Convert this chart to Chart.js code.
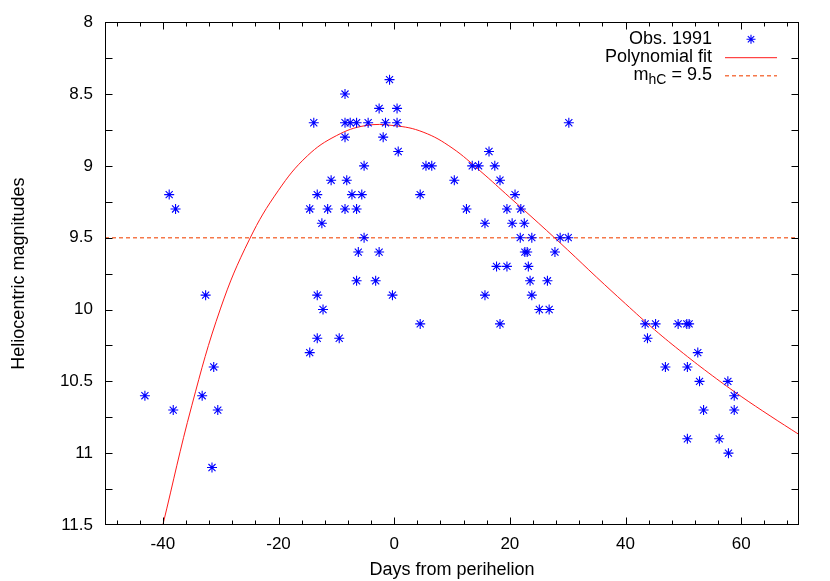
<!DOCTYPE html>
<html><head><meta charset="utf-8">
<script src="https://cdn.jsdelivr.net/npm/chart.js@4/dist/chart.umd.min.js"></script>
<style>html,body{margin:0;padding:0;background:#fff;}canvas{display:block;}</style>
</head><body>
<canvas id="c" width="830" height="581"></canvas>
<script>
// ---- data ----
const obsDays = [-43.1,-38.9,-37.8,-38.2,-32.6,-33.2,-31.2,-31.5,-30.5,
  -14.6,-14.6,-13.9,-13.3,-13.3,-13.3,-12.5,-12.3,-11.5,-10.9,
  -9.5,-8.5,-8.5,-8.5,-8.5,-8.2,-7.6,-7.3,-6.5,-6.5,
  -6.5,-6.2,-5.6,-5.2,-5.2,-4.5,-3.2,-2.6,-2.6,-1.9,
  -1.5,-0.8,-0.3,0.5,0.5,0.7,4.5,4.5,5.5,6.5,
  10.4,12.5,13.5,14.6,15.7,15.7,16.4,17.4,17.7,18.3,
  18.3,19.5,19.5,20.4,20.9,21.8,21.9,22.5,22.6,23.0,
  23.2,23.5,23.8,23.8,25.1,26.5,26.8,27.8,28.7,30.1,30.2,
  43.4,43.8,45.2,46.9,49.1,50.6,51.0,50.7,50.7,
  52.5,52.8,53.5,56.2,57.7,57.8,58.8,58.8];
const obsMags = [10.6,9.2,9.3,10.7,9.9,10.6,10.4,11.1,10.7,
  10.3,9.3,8.7,9.2,9.9,10.2,9.4,10.0,9.3,9.1,
  10.2,8.5,8.7,8.8,9.3,9.1,8.7,9.2,8.7,9.3,
  9.8,9.6,9.2,9.0,9.5,8.7,9.8,8.6,9.6,8.8,
  8.7,8.4,9.9,8.6,8.7,8.9,9.2,10.1,9.0,9.0,
  9.1,9.3,9.0,9.0,9.4,9.9,8.9,9.0,9.7,9.1,
  10.1,9.3,9.7,9.4,9.2,9.5,9.3,9.4,9.6,9.6,
  9.7,9.8,9.5,9.9,10.0,9.8,10.0,9.6,9.5,9.5,8.7,
  10.1,10.2,10.1,10.4,10.1,10.1,10.1,10.4,10.9,
  10.3,10.5,10.7,10.9,10.5,11.0,10.6,10.7];
// polynomial fit, sampled off the drawn curve every 5 days
const fitDays = [-40,-35,-30,-25,-20,-15,-10,-5,0,5,10,15,20,25,30,35,40,45,50,55,60,65,70];
const fitMags = [11.5,10.67,9.99,9.51,9.17,8.93,8.79,8.72,8.72,8.765,8.875,9.04,9.22,9.40,9.585,9.775,9.96,10.14,10.305,10.46,10.605,10.74,10.87];
const refMag = 9.5;
const xRange = [-50, 70];
const yRange = [8, 11.5];
const xTickLabels = [-40, -20, 0, 20, 40, 60];
const yTickLabels = [8, 8.5, 9, 9.5, 10, 10.5, 11, 11.5];
const seriesLabels = ['Obs. 1991', 'Polynomial fit'];
const xTitle = 'Days from perihelion';
const yTitle = 'Heliocentric magnitudes';

const FAM = '"Liberation Sans", Arial, Helvetica, sans-serif';
const BLUE = '#0000ff', RED = '#ff1a1a', DASH = '#f5784a';

function drawStar(ctx, x, y, r) {
  ctx.beginPath();
  ctx.moveTo(x - r, y); ctx.lineTo(x + r, y);
  ctx.moveTo(x, y - r); ctx.lineTo(x, y + r);
  const d = r * Math.SQRT1_2;
  ctx.moveTo(x - d, y - d); ctx.lineTo(x + d, y + d);
  ctx.moveTo(x - d, y + d); ctx.lineTo(x + d, y - d);
  ctx.stroke();
}

const framePlugin = {
  id: 'frame',
  afterDraw(chart) {
    const {ctx, chartArea: a, scales: {x, y}} = chart;
    ctx.save();
    ctx.strokeStyle = '#000';
    ctx.lineWidth = 1;
    const L = Math.round(a.left) + 0.5, R = Math.round(a.right) - 0.5;
    const T = Math.round(a.top) + 0.5, B = Math.round(a.bottom) - 0.5;
    ctx.beginPath();
    for (let v = Math.ceil(x.min / 4) * 4; v <= x.max; v += 4) {
      const px = Math.round(x.getPixelForValue(v)) + 0.5;
      if (px <= L + 1 || px >= R - 1) continue;
      const len = (v % 20 === 0) ? 7 : 4;
      ctx.moveTo(px, B); ctx.lineTo(px, B - len);
      ctx.moveTo(px, T); ctx.lineTo(px, T + len);
    }
    for (let v = y.min; v <= y.max + 1e-9; v += 0.25) {
      const py = Math.round(y.getPixelForValue(v)) + 0.5;
      if (py <= T + 1 || py >= B - 1) continue;
      ctx.moveTo(L, py); ctx.lineTo(L + 7, py);
      ctx.moveTo(R, py); ctx.lineTo(R - 7, py);
    }
    ctx.stroke();
    ctx.strokeRect(L, T, R - L, B - T);

    // legend
    const tr = a.right - 87;
    const s1 = a.right - 74, s2 = a.right - 22, sc = (s1 + s2) / 2;
    const rows = [a.top + 17, a.top + 35, a.top + 53];
    ctx.fillStyle = '#000';
    ctx.textBaseline = 'middle';
    ctx.textAlign = 'right';
    ctx.font = '18px ' + FAM;
    ctx.fillText(seriesLabels[0], tr, rows[0]);
    ctx.fillText(seriesLabels[1], tr, rows[1]);
    const tail = ' = ' + refMag;
    ctx.fillText(tail, tr, rows[2]);
    const w1 = ctx.measureText(tail).width;
    ctx.font = '14px ' + FAM;
    ctx.fillText('hC', tr - w1, rows[2] + 5);
    const w2 = ctx.measureText('hC').width;
    ctx.font = '18px ' + FAM;
    ctx.fillText('m', tr - w1 - w2, rows[2]);

    ctx.lineWidth = 1.1;
    ctx.strokeStyle = BLUE;
    drawStar(ctx, sc, rows[0], 4.5);
    ctx.lineWidth = 1;
    ctx.strokeStyle = RED;
    ctx.beginPath(); ctx.moveTo(s1, rows[1] + 0.5); ctx.lineTo(s2, rows[1] + 0.5); ctx.stroke();
    ctx.lineWidth = 1.4;
    ctx.strokeStyle = DASH;
    ctx.setLineDash([4, 3]);
    ctx.beginPath(); ctx.moveTo(s1, rows[2] + 0.5); ctx.lineTo(s2, rows[2] + 0.5); ctx.stroke();
    ctx.restore();
  }
};

new Chart(document.getElementById('c'), {
  type: 'scatter',
  data: {
    datasets: [
      {
        label: seriesLabels[0],
        data: obsDays.map((d, i) => ({x: d, y: obsMags[i]})),
        pointStyle: 'star', pointRadius: 5, pointBorderWidth: 1.1,
        pointBorderColor: BLUE, pointBackgroundColor: BLUE, showLine: false
      },
      {
        label: seriesLabels[1],
        data: fitDays.map((d, i) => ({x: d, y: fitMags[i]})),
        showLine: true, pointRadius: 0, borderColor: RED, borderWidth: 1,
        tension: 0.4, fill: false
      },
      {
        label: 'ref',
        data: [{x: xRange[0], y: refMag}, {x: xRange[1], y: refMag}],
        showLine: true, pointRadius: 0, borderColor: DASH, borderWidth: 1.4,
        borderDash: [4, 3], fill: false
      }
    ]
  },
  options: {
    responsive: false, animation: false, devicePixelRatio: 1,
    layout: {padding: {left: 0, right: 31, top: 22, bottom: 0}},
    plugins: {legend: {display: false}, tooltip: {enabled: false}},
    scales: {
      x: {
        type: 'linear', min: xRange[0], max: xRange[1],
        afterBuildTicks: s => { s.ticks = xTickLabels.map(v => ({value: v})); },
        afterFit: s => { s.height = 56; },
        ticks: {callback: v => String(v), color: '#000', font: {size: 17, family: FAM}, padding: 9, maxRotation: 0, autoSkip: false},
        grid: {display: false, drawTicks: false},
        border: {display: false},
        title: {display: true, text: xTitle, color: '#000', font: {size: 18, family: FAM}, padding: {top: 0, bottom: 0}}
      },
      y: {
        type: 'linear', reverse: true, min: yRange[0], max: yRange[1],
        afterBuildTicks: s => { s.ticks = yTickLabels.map(v => ({value: v})); },
        afterFit: s => { s.width = 105; },
        ticks: {callback: v => String(v), color: '#000', font: {size: 17, family: FAM}, padding: 12, autoSkip: false},
        grid: {display: false, drawTicks: false},
        border: {display: false},
        title: {display: true, text: yTitle, color: '#000', font: {size: 18, family: FAM}, padding: {top: 8, bottom: 0}}
      }
    }
  },
  plugins: [framePlugin]
});
</script>
</body></html>
